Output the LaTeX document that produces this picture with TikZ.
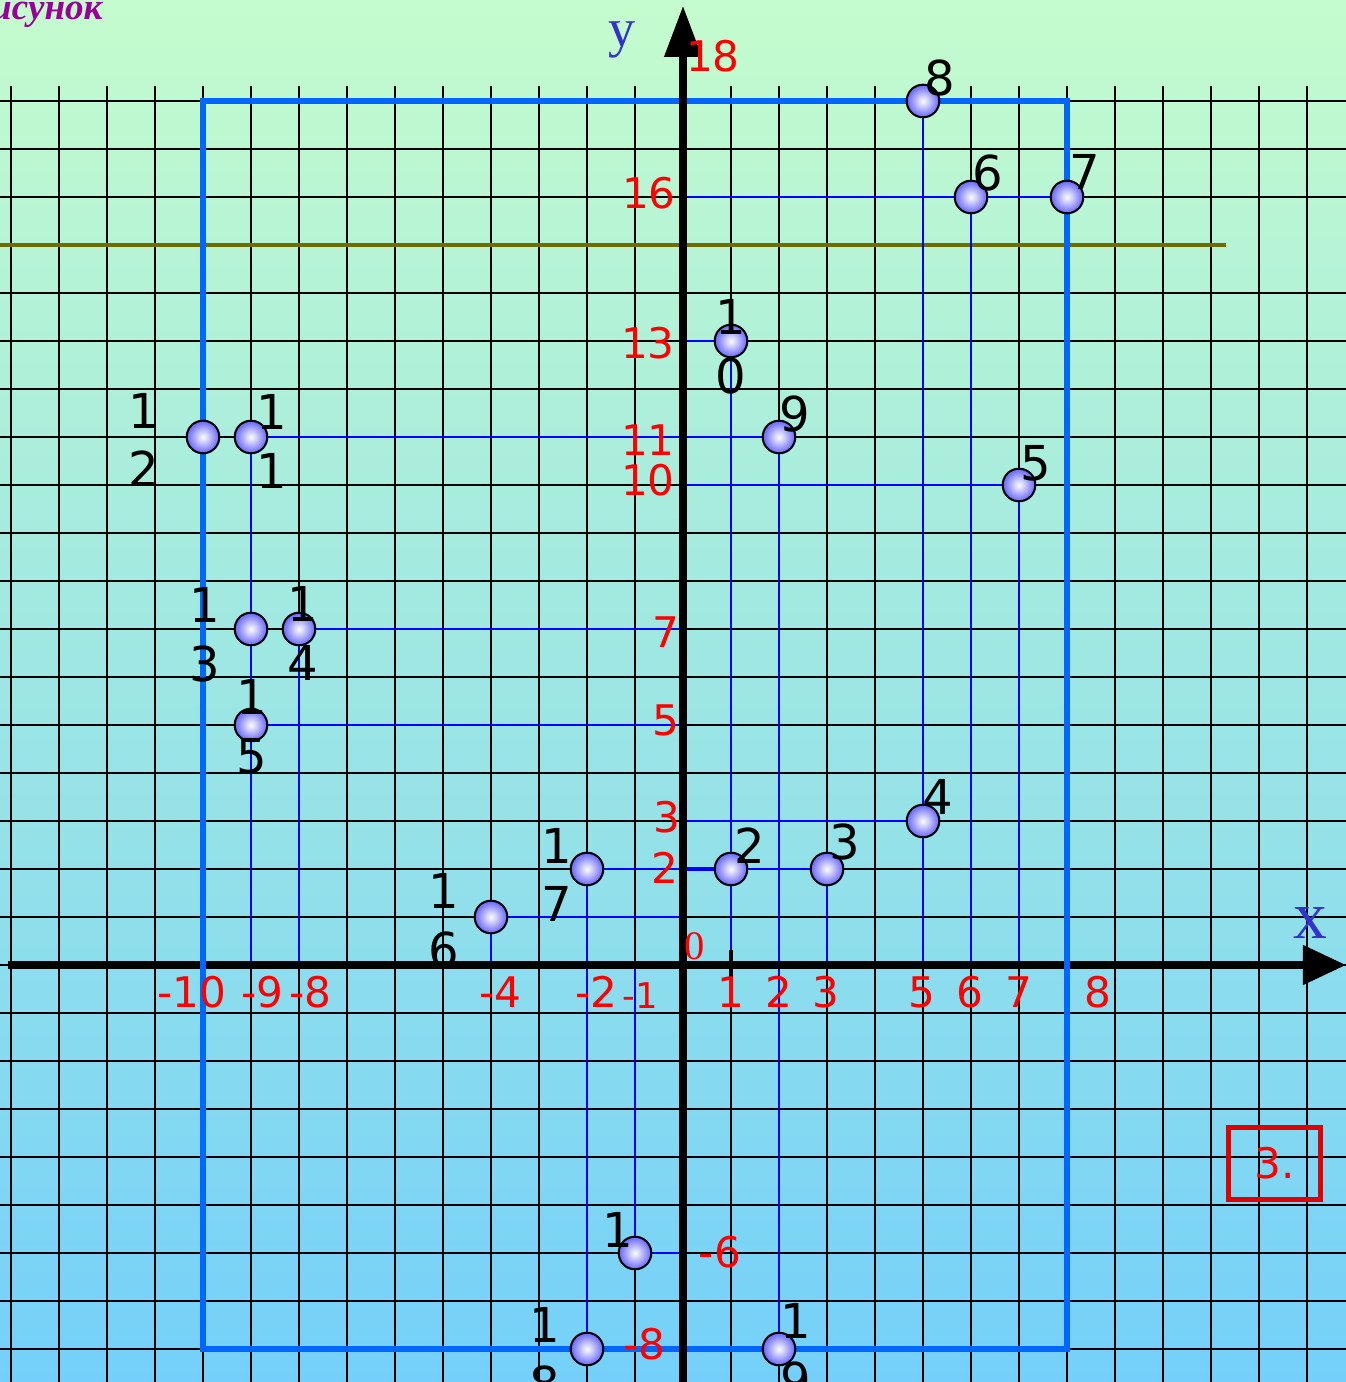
\documentclass[tikz,border=0pt]{standalone}
\usepackage{fontspec}
\setmainfont{DejaVu Sans}
\newfontfamily\timesfont{Liberation Serif}
\usetikzlibrary{arrows.meta,positioning}

\definecolor{bgtop}{RGB}{197,252,205}
\definecolor{bgbot}{RGB}{116,208,250}
\definecolor{framecol}{RGB}{0,102,255}
\definecolor{projcol}{RGB}{0,0,255}
\definecolor{axislbl}{RGB}{51,51,204}
\definecolor{olivecol}{RGB}{110,110,0}
\definecolor{ballcol}{RGB}{100,100,250}
\definecolor{titlecol}{RGB}{153,0,153}
\definecolor{boxred}{RGB}{224,0,0}

\tikzset{
  gridline/.style={black, line width=1.5pt},
  proj/.style={projcol, line width=1.3pt},
  frameline/.style={framecol, line width=3.6pt},
  axisline/.style={black, line width=4.2pt},
  ball/.style={circle, draw=black, line width=1.2pt, minimum size=0.68cm,
    inner sep=0pt, shading=radial, inner color=white, outer color=ballcol},
  numlbl/.style={black, font=\fontsize{28.5}{34.8}\selectfont, align=center, inner sep=0pt},
  redlbl/.style={red, font=\fontsize{25}{30}\selectfont, inner sep=0pt}
}

\begin{document}
\begin{tikzpicture}
    \useasboundingbox (-14.2292,-8.6875) rectangle (13.8125,20.1042);
    \shade[top color=bgtop, bottom color=bgbot] (-14.2292,-8.6875) rectangle (13.8125,20.1042);
    \foreach \gx in {-14,...,13}
        \draw[gridline] (\gx,-8.6875) -- (\gx,18.3125);
    \foreach \gy in {-8,...,14,16,17,18}
        \draw[gridline] (-14.2292,\gy) -- (13.8125,\gy);
    \draw[olivecol, line width=1.8pt] (-14.2292,15) -- (11.31,15);

    \coordinate (o) at (0,0);
    \coordinate (p1) at (-1,-6);
    \coordinate (p2) at (1,2);
    \coordinate (p3) at (3,2);
    \coordinate (p4) at (5,3);
    \coordinate (p5) at (7,10);
    \coordinate (p6) at (6,16);
    \coordinate (p7) at (8,16);
    \coordinate (p8) at (5,18);
    \coordinate (p9) at (2,11);
    \coordinate (p10) at (1,13);
    \coordinate (p11) at (-9,11);
    \coordinate (p12) at (-10,11);
    \coordinate (p13) at (-9,7);
    \coordinate (p14) at (-8,7);
    \coordinate (p15) at (-9,5);
    \coordinate (p16) at (-4,1);
    \coordinate (p17) at (-2,2);
    \coordinate (p18) at (-2,-8);
    \coordinate (p19) at (2,-8);

    \draw[proj] (o |- p8) -- (p8) -- (p8 |- o);
    \draw[proj] (o |- p7) -- (p7) -- (p7 |- o);
    \draw[proj] (p6) -- (p6 |- o);
    \draw[proj] (o |- p10) -- (p10) -- (p10 |- o);
    \draw[proj] (p11 |- o) -- (p11) -- (p9) -- (p19);
    \draw[proj] (o |- p5) -- (p5) -- (p5 |- o);
    \draw[proj] (o |- p14) -- (p14) -- (p14 |- o);
    \draw[proj] (o |- p15) -- (p15);
    \draw[proj] (o |- p4) -- (p4);
    \draw[proj] (p3 |- o) -- (p3) -- (p17) -- (p18) -- (p19);
    \draw[proj] (o |- p16) -- (p16) -- (p16 |- o);
    \draw[proj] (o |- p1) -- (p1) -- (p1 |- o);
    \draw[proj, line width=2.6pt] (o |- p2) -- (p2);

    \coordinate (xs) at (-14.06,0);
    \coordinate (xe) at (13.8125,0);
    \coordinate (ys) at (0,-8.6875);
    \coordinate (ye) at (0,19.98);
    \draw[axisline, -{Triangle[length=0.9cm,width=0.8cm]}] (xs) -- (xe);
    \draw[frameline] (p12 |- p18) rectangle (p7 |- p8);
    \draw[axisline, -{Triangle[length=1.06cm,width=0.75cm]}] (ys) -- (ye);
    \draw[black, line width=2.5pt] (1,0.31) -- (1,-0.25);

    \foreach \i in {1,...,19}
        \node[ball] (b\i) at (p\i) {};

    \node[numlbl] (l1) at ([shift={+(-0.354,0.48)}]p1) {1};
    \node[numlbl] (l2) at ([shift={+(0.396,0.48)}]p2) {2};
    \node[numlbl] (l3) at ([shift={+(0.375,0.56)}]p3) {3};
    \node[numlbl] (l4) at ([shift={+(0.31,0.5)}]p4) {4};
    \node[numlbl] (l5) at ([shift={+(0.354,0.46)}]p5) {5};
    \node[numlbl] (l6) at ([shift={+(0.354,0.5)}]p6) {6};
    \node[numlbl] (l7) at ([shift={+(0.375,0.52)}]p7) {7};
    \node[numlbl] (l8) at ([shift={+(0.354,0.48)}]p8) {8};
    \node[numlbl] (l9) at ([shift={+(0.33,0.48)}]p9) {9};
    \node[numlbl] (l10) at ([shift={+(0,-0.125)}]p10) {1\\0};
    \node[numlbl] (l11) at ([shift={+(0.44,-0.1)}]p11) {1\\1};
    \node[numlbl] (l12) at ([shift={+(-1.23,-0.06)}]p12) {1\\2};
    \node[numlbl] (l13) at ([shift={+(-0.96,-0.125)}]p13) {1\\3};
    \node[numlbl] (l14) at ([shift={+(0.08,-0.1)}]p14) {1\\4};
    \node[numlbl] (l15) at ([shift={+(0.02,-0.04)}]p15) {1\\5};
    \node[numlbl] (l16) at ([shift={+(-0.98,-0.083)}]p16) {1\\6};
    \node[numlbl] (l17) at ([shift={+(-0.625,-0.125)}]p17) {1\\7};
    \node[numlbl] (l18) at ([shift={+(-0.875,-0.125)}]p18) {1\\8};
    \node[numlbl] (l19) at ([shift={+(0.354,-0.04)}]p19) {1\\9};

    \node[redlbl] (xm10) at (-10.23,-0.5625) {-10};
    \node[redlbl] (xm9) at (-8.77,-0.5625) {-9};
    \node[redlbl] (xm8) at (-7.77,-0.5625) {-8};
    \node[redlbl] (xm4) at (-3.81,-0.5625) {-4};
    \node[redlbl] (xm2) at (-1.81,-0.5625) {-2};
    \node[redlbl, font=\fontsize{21}{25}\selectfont] (xm1) at (-0.896,-0.646) {-1};
    \node[redlbl] (x1) at (1,-0.5625) {1};
    \node[redlbl] (x2) at (2,-0.5625) {2};
    \node[redlbl] (x3) at (2.98,-0.5625) {3};
    \node[redlbl] (x5) at (4.98,-0.5625) {5};
    \node[redlbl] (x6) at (5.98,-0.5625) {6};
    \node[redlbl] (x7) at (7,-0.5625) {7};
    \node[redlbl] (x8) at (8.65,-0.5625) {8};
    \node[redlbl, font=\timesfont\fontsize{24}{28}\selectfont] (zero) at (0.25,0.40) {0};
    \node[redlbl] (y18) at (0.625,18.94) {18};
    \node[redlbl] (y16) at (-0.71,16.08) {16};
    \node[redlbl] (y13) at (-0.73,12.96) {13};
    \node[redlbl] (y11) at (-0.73,10.94) {11};
    \node[redlbl] (y10) at (-0.73,10.1) {10};
    \node[redlbl] (y7) at (-0.35,6.94) {7};
    \node[redlbl] (y5) at (-0.35,5.1) {5};
    \node[redlbl] (y3) at (-0.33,3.08) {3};
    \node[redlbl] (y2) at (-0.375,2.02) {2};
    \node[redlbl] (ym6) at (0.77,-5.98) {-6};
    \node[redlbl] (ym8) at (-0.81,-7.9) {-8};

    \node[axislbl, font=\timesfont\fontsize{40}{44}\selectfont, inner sep=0pt] (xlbl) at (13.06,0.875) {x};
    \node[axislbl, font=\timesfont\fontsize{32}{36}\selectfont, inner sep=0pt] (ylbl) at (-1.27,19.27) {y};
    \node[draw=boxred, line width=3pt, minimum width=1.92cm, minimum height=1.5cm,
        text=red, font=\fontsize{25}{30}\selectfont] (box) at (12.32,-4.135) {3.};
    \node[titlecol, font=\timesfont\bfseries\itshape\fontsize{22}{26}\selectfont,
        anchor=base west, inner sep=0pt] (title) at (-14.42,19.69) {исунок};
\end{tikzpicture}
\end{document}
